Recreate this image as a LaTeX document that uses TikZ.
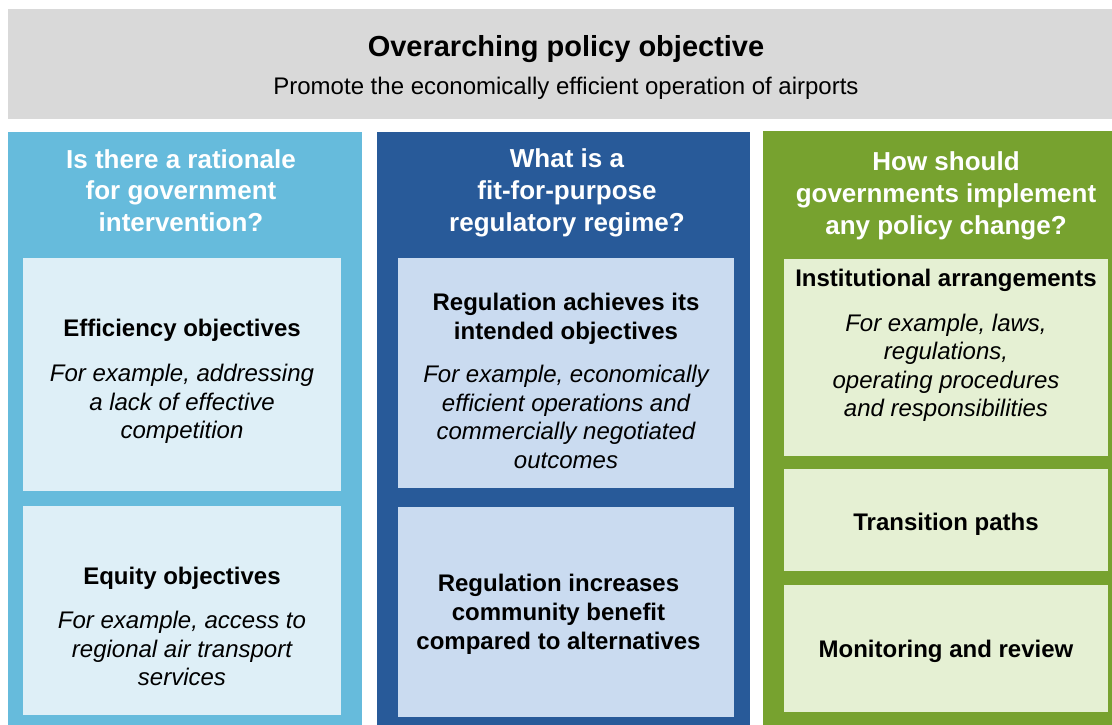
\documentclass[tikz,border=0pt]{standalone}
\usepackage{fontspec}
\setmainfont{Liberation Sans}
\definecolor{greybg}{HTML}{D9D9D9}
\definecolor{lblue}{HTML}{66BBDC}
\definecolor{lbluein}{HTML}{DEEFF7}
\definecolor{dblue}{HTML}{285A99}
\definecolor{dbluein}{HTML}{CADBF0}
\definecolor{green}{HTML}{77A22F}
\definecolor{greenin}{HTML}{E5F0D3}
\tikzset{
  txt/.style={inner sep=0pt, anchor=base, align=center},
  ttl/.style={txt, font=\fontsize{29}{34}\selectfont\bfseries},
  sub/.style={txt, font=\fontsize{24}{29}\selectfont},
  hdr/.style={txt, text=white, font=\fontsize{26}{31.8}\selectfont\bfseries},
  head/.style={txt, font=\fontsize{24}{29}\selectfont\bfseries},
  ex/.style={txt, font=\fontsize{24}{28.5}\selectfont\itshape},
}
\begin{document}
\begin{tikzpicture}[x=1pt,y=-1pt]
\useasboundingbox (0,0) rectangle (1112,725);
% top banner
\fill[greybg] (8,9) rectangle (1112,119);
\node[ttl] (title) at (566,56.7) {Overarching policy objective};
\node[sub] (subtitle) at (566,95) {Promote the economically efficient operation of airports};
% columns
\fill[lblue] (8,132) rectangle (362,725);
\fill[dblue] (377,132) rectangle (750,725);
\fill[green] (763,131) rectangle (1112,725);
% inner boxes
\fill[lbluein] (23,258) rectangle (341,491);
\fill[lbluein] (23,506) rectangle (341,715);
\fill[dbluein] (398,258) rectangle (734,488);
\fill[dbluein] (398,507) rectangle (734,717);
\fill[greenin] (784,259) rectangle (1108,456);
\fill[greenin] (784,469) rectangle (1108,571);
\fill[greenin] (784,585) rectangle (1108,712);
% headers (anchor = baseline of last line)
\node[hdr] (h1) at (181,231.7) {Is there a rationale\\for government\\intervention?};
\node[hdr] (h2) at (567,231.2) {What is a\\fit-for-purpose\\regulatory regime?};
\node[hdr] (h3) at (946,234.3) {How should\\governments implement\\any policy change?};
% left column
\node[head] (eff) at (182,336) {Efficiency objectives};
\node[ex] (effex) at (182,438.5) {For example, addressing\\a lack of effective\\competition};
\node[head] (equ) at (182,584.3) {Equity objectives};
\node[ex] (equex) at (182,685.7) {For example, access to\\regional air transport\\services};
% middle column
\node[head] (reg1) at (566,339) {Regulation achieves its\\intended objectives};
\node[ex] (reg1ex) at (566,468.3) {For example, economically\\efficient operations and\\commercially negotiated\\outcomes};
\node[head] (reg2) at (558.5,649.3) {Regulation increases\\community benefit\\compared to alternatives};
% right column
\node[head] (inst) at (946,286) {Institutional arrangements};
\node[ex] (instex) at (946,416.7) {For example, laws,\\regulations,\\operating procedures\\and responsibilities};
\node[head] (trans) at (946,530) {Transition paths};
\node[head] (mon) at (946,657.3) {Monitoring and review};
\end{tikzpicture}
\end{document}
